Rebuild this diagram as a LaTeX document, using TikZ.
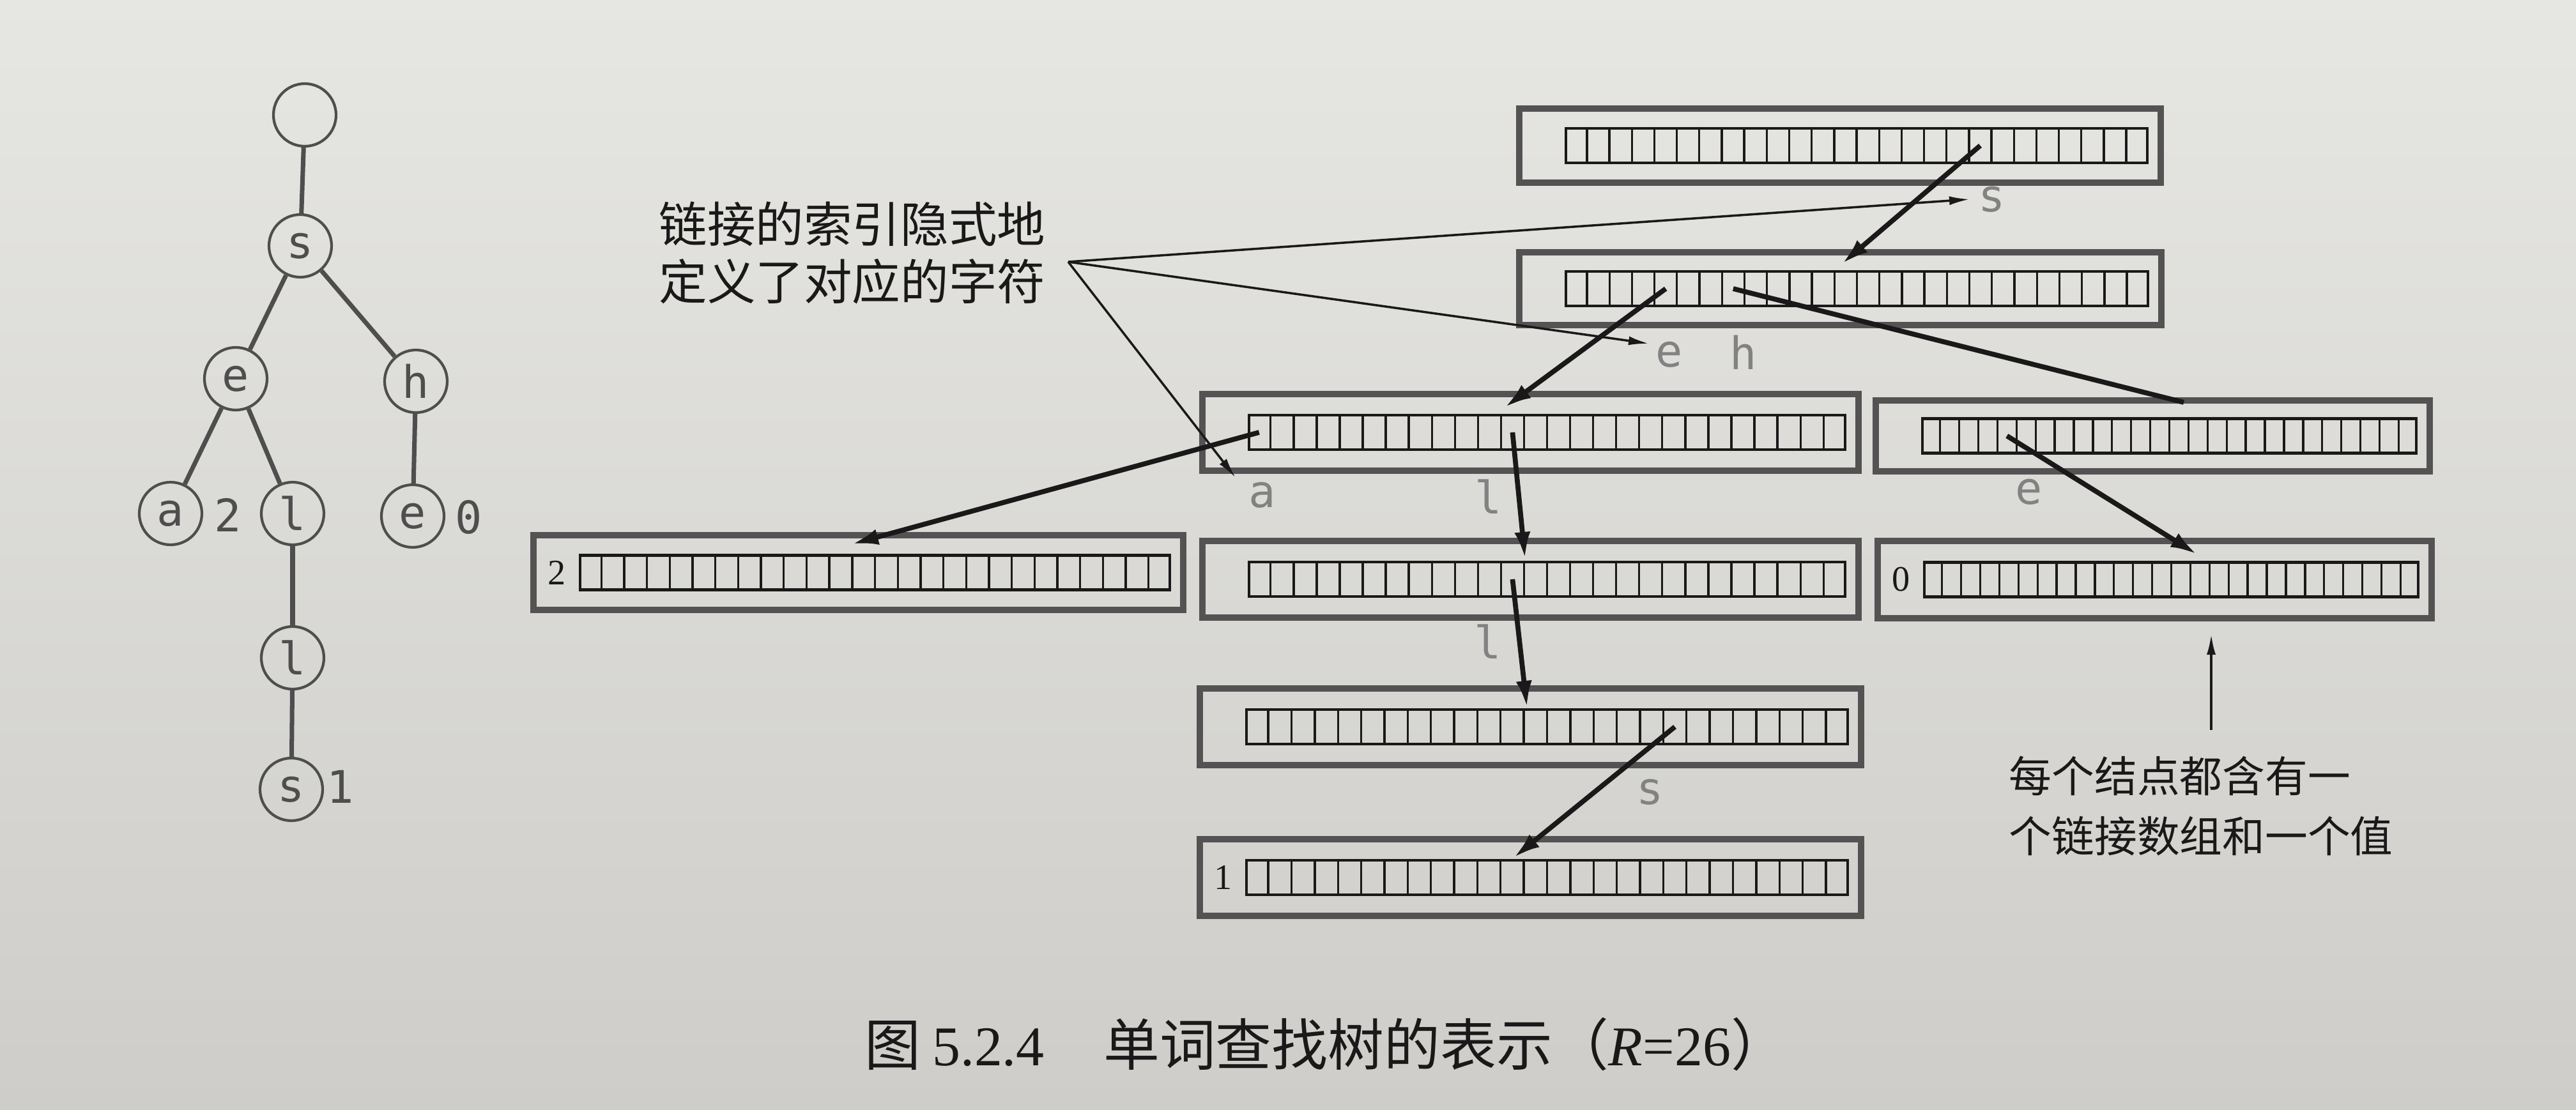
\documentclass[tikz,border=0pt]{standalone}
\usepackage{fontspec}
\setmainfont{Liberation Serif}
\newfontfamily\cjk{Noto Sans CJK SC}
\newfontfamily\monof{DejaVu Sans Mono}
\usetikzlibrary{arrows.meta,calc,fit}

\definecolor{paperlight}{RGB}{230,230,226}
\definecolor{paperdark}{RGB}{206,205,201}
\definecolor{boxgray}{RGB}{84,82,82}
\definecolor{ink}{RGB}{26,24,24}
\definecolor{lettergray}{RGB}{130,130,130}
\definecolor{treegray}{RGB}{78,78,78}

\tikzset{
  outerbox/.style={draw=boxgray, line width=2.7pt, inner sep=0pt},
  arrbox/.style={draw=ink, line width=1.3pt, inner sep=0pt},
  divider/.style={draw=ink, line width=0.95pt},
  link/.style={draw=ink, line width=2.2pt, -{Latex[length=0.42cm,width=0.25cm]}},
  linkplain/.style={draw=ink, line width=2.2pt},
  pointer/.style={draw=ink, line width=1pt, -{Latex[length=0.32cm,width=0.14cm]}},
  chlabel/.style={text=lettergray, font=\monof\fontsize{20}{20}\selectfont, inner sep=1pt},
  valtext/.style={text=ink, font=\fontsize{16}{16}\selectfont, inner sep=0pt},
  tnode/.style={circle, draw=treegray, line width=1.2pt, minimum size=0.98cm, inner sep=0pt, text=treegray, font=\monof\fontsize{20}{20}\selectfont},
  tedge/.style={draw=treegray, line width=2pt},
  tval/.style={text=treegray, font=\monof\fontsize{20}{20}\selectfont, inner sep=0pt},
  noteA/.style={text=ink, font=\cjk\fontsize{21.5}{25.6}\selectfont, align=left, inner sep=0pt},
  noteB/.style={text=ink, font=\cjk\fontsize{19}{27}\selectfont, align=left, inner sep=0pt},
  captext/.style={text=ink, font=\fontsize{25}{28}\selectfont, inner sep=0pt},
}

% #1 name, #2 left, #3 top, #4 right, #5 bottom, #6 value
\newcommand\trienode[6]{%
  \coordinate (#1-nw) at (#2,#3);
  \coordinate (#1-se) at (#4,#5);
  \node[outerbox, fit=(#1-nw)(#1-se)] (#1) {};
  \coordinate (#1-anw) at ({#2+0.73},{(#3+#5)/2-0.27});
  \coordinate (#1-ase) at ({#4-0.21},{(#3+#5)/2+0.27});
  \node[arrbox, fit=(#1-anw)(#1-ase)] (#1-arr) {};
  \foreach \i in {1,...,25}
    \draw[divider] ($(#1-arr.north west)!\i/26!(#1-arr.north east)$) -- ($(#1-arr.south west)!\i/26!(#1-arr.south east)$);
  \foreach \i in {0,...,25}
    \coordinate (#1-c\i) at ($(#1-arr.west)!{(\i+0.5)/26}!(#1-arr.east)$);
  \ifx&#6&\else\node[valtext] (#1-val) at ({#2+0.37},{(#3+#5)/2}) {#6};\fi
}

\begin{document}
\begin{tikzpicture}[x=1cm,y=-1cm]
\useasboundingbox (0,0) rectangle (40.32,17.38);
\shade[top color=paperlight, bottom color=paperdark] (0,0) rectangle (40.32,17.38);

% ---------- tree ----------
\node[tnode] (t0)  at (4.77,1.80) {};
\node[tnode] (ts)  at (4.70,3.85) {s};
\node[tnode] (te)  at (3.69,5.93) {e};
\node[tnode] (th)  at (6.51,5.97) {h};
\node[tnode] (ta)  at (2.67,8.04) {a};
\node[tnode] (tl1) at (4.58,8.04) {l};
\node[tnode] (te2) at (6.46,8.08) {e};
\node[tnode] (tl2) at (4.58,10.30) {l};
\node[tnode] (ts2) at (4.56,12.36) {s};
\node[tval] (v2) at (3.57,8.06) {2};
\node[tval] (v0) at (7.34,8.10) {0};
\node[tval] (v1) at (5.33,12.32) {1};
\draw[tedge] (t0) -- (ts);
\draw[tedge] (ts) -- (te);
\draw[tedge] (ts) -- (th);
\draw[tedge] (te) -- (ta);
\draw[tedge] (te) -- (tl1);
\draw[tedge] (th) -- (te2);
\draw[tedge] (tl1) -- (tl2);
\draw[tedge] (tl2) -- (ts2);

% ---------- trie nodes ----------
\trienode{R}{23.78}{1.70}{33.82}{2.86}{}
\trienode{S}{23.78}{3.95}{33.83}{5.09}{}
\trienode{E}{18.82}{6.17}{29.09}{7.37}{}
\trienode{H}{29.36}{6.27}{38.03}{7.38}{}
\trienode{A}{8.35}{8.38}{18.52}{9.55}{2}
\trienode{L1}{18.82}{8.47}{29.09}{9.67}{}
\trienode{E0}{29.39}{8.47}{38.06}{9.68}{0}
\trienode{L2}{18.78}{10.78}{29.13}{11.98}{}
\trienode{S1}{18.78}{13.14}{29.13}{14.34}{1}

% ---------- character labels ----------
\node[chlabel] (ls)  at (31.18,3.12) {s};
\node[chlabel] (le)  at (26.13,5.55) {e};
\node[chlabel] (lh)  at (27.29,5.52) {h};
\node[chlabel] (la)  at (19.76,7.75) {a};
\node[chlabel] (ll1) at (23.30,7.78) {l};
\node[chlabel] (le2) at (31.76,7.70) {e};
\node[chlabel] (ll2) at (23.29,10.05) {l};
\node[chlabel] (ls2) at (25.83,12.40) {s};

% ---------- links ----------
\coordinate (tS)  at (28.83,4.13);
\coordinate (tE)  at (23.55,6.38);
\coordinate (tH)  at (34.18,6.30);
\coordinate (tA)  at (13.33,8.52);
\coordinate (tL1) at (23.87,8.75);
\coordinate (tL2) at (23.90,11.08);
\coordinate (tS1) at (23.69,13.43);
\coordinate (tE0) at (34.39,8.68);
\draw[link] (R-c18) -- (tS);
\draw[link] (S-c4) -- (tE);
\draw[linkplain] (S-c7) -- (tH);
\draw[link] (E-c0) -- (tA);
\draw[link] (E-c11) -- (tL1);
\draw[link] (L1-c11) -- (tL2);
\draw[link] (L2-c18) -- (tS1);
\draw[link] (H-c4) -- (tE0);

% ---------- annotations ----------
\node[noteA, anchor=west] (n1) at (10.31,3.96) {链接的索引隐式地\\定义了对应的字符};
\coordinate (fan) at (16.72,4.10);
\coordinate (fs) at (30.83,3.12);
\coordinate (fe) at (25.81,5.38);
\coordinate (fa) at (19.34,7.48);
\draw[pointer] (fan) -- (fs);
\draw[pointer] (fan) -- (fe);
\draw[pointer] (fan) -- (fa);

\node[noteB, anchor=west] (n2) at (31.44,12.62) {每个结点都含有一\\个链接数组和一个值};
\coordinate (us) at (34.61,11.43);
\coordinate (ue) at (34.61,9.93);
\draw[pointer] (us) -- (ue);

% ---------- caption ----------
\node[captext, anchor=west] (cap) at (13.53,16.35) {{\cjk 图}\hspace{0.2em}5.2.4\hspace{1.05em}{\cjk 单词查找树的表示（}\textit{R}=26{\cjk ）}};
\end{tikzpicture}
\end{document}
